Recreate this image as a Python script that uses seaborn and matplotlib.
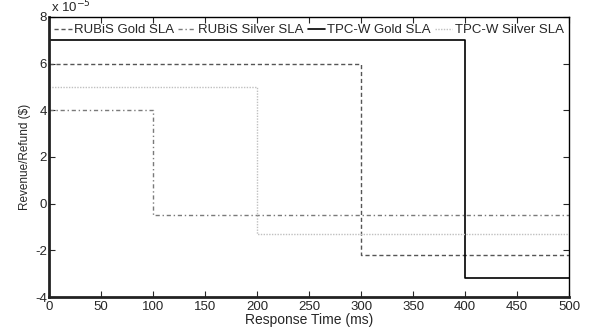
import matplotlib
matplotlib.use("Agg")
import matplotlib.pyplot as plt
import seaborn as sns
import pandas as pd
from matplotlib.ticker import FuncFormatter, MultipleLocator

series = ["RUBiS Gold SLA", "RUBiS Silver SLA", "TPC-W Gold SLA", "TPC-W Silver SLA"]
thresholds = [300, 100, 400, 200]          # ms
revenue = [6e-5, 4e-5, 7e-5, 5e-5]          # $
refund = [-2.2e-5, -0.5e-5, -3.2e-5, -1.3e-5]  # $
x_max = 500

sns.set_style("white")
plt.rcParams["font.family"] = ["Liberation Sans", "DejaVu Sans"]
plt.rcParams["axes.unicode_minus"] = False

fig = plt.figure(figsize=(5.99, 3.32), dpi=100)
ax = fig.add_axes([0.0818, 0.1054, 0.8682, 0.8436])

styles = {
    "RUBiS Gold SLA": dict(color="#555555", linestyle=(0, (3, 2)), linewidth=1.0),
    "RUBiS Silver SLA": dict(color="#7a7a7a", linestyle=(0, (3, 2, 1, 2)), linewidth=1.0),
    "TPC-W Gold SLA": dict(color="black", linestyle="-", linewidth=1.2),
    "TPC-W Silver SLA": dict(color="#c0c0c0", linestyle=(0, (1, 1)), linewidth=1.0),
}

for name, t, hi, lo in zip(series, thresholds, revenue, refund):
    df = pd.DataFrame({"x": [0, t, x_max], "y": [hi, lo, lo]})
    sns.lineplot(data=df, x="x", y="y", ax=ax, drawstyle="steps-post",
                 label=name, **styles[name])

ax.set_xlim(0, 500)
ax.set_ylim(-4e-5, 8e-5)
ax.xaxis.set_major_locator(MultipleLocator(50))
ax.yaxis.set_major_locator(MultipleLocator(2e-5))
ax.yaxis.set_major_formatter(FuncFormatter(lambda v, p: f"{v/1e-5:.0f}"))

ax.tick_params(direction="in", length=4, width=0.8, labelsize=9.5,
               top=True, right=True, bottom=True, left=True)
ax.tick_params(axis="x", pad=3)
ax.tick_params(axis="y", pad=1.5)
for s in ["top", "right"]:
    ax.spines[s].set_linewidth(1.0)
    ax.spines[s].set_color("black")
for s in ["left", "bottom"]:
    ax.spines[s].set_linewidth(2.0)
    ax.spines[s].set_color("#222222")

ax.set_xlabel("Response Time (ms)", fontsize=10, labelpad=0)
ax.set_ylabel("Revenue/Refund ($)", fontsize=8.5, labelpad=3)
ax.text(0.003, 1.005, "x 10$^{-5}$", transform=ax.transAxes, fontsize=9.5,
        ha="left", va="bottom")

leg = ax.legend(loc="upper center", bbox_to_anchor=(0.5, 1.0), ncol=4,
                frameon=False, fontsize=9.5, handlelength=1.3, handletextpad=0.2,
                columnspacing=0.3, borderaxespad=0.35, borderpad=0.2)

fig.savefig("out.png", dpi=100)
